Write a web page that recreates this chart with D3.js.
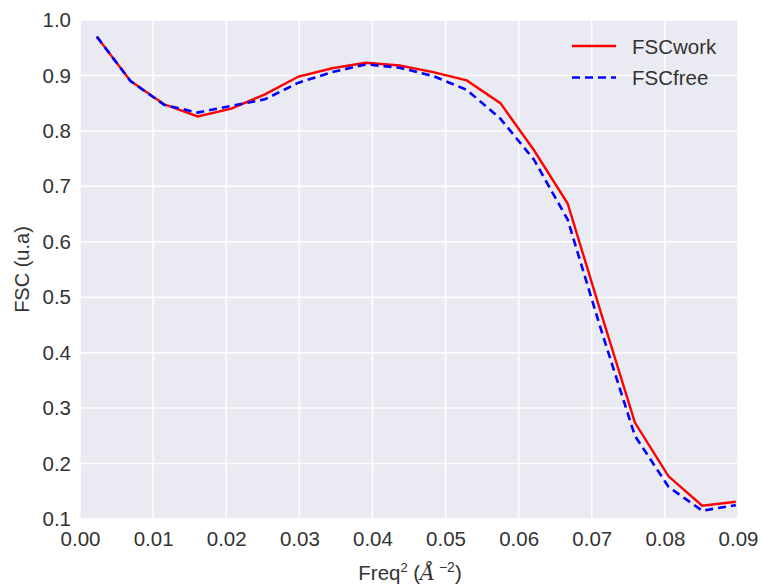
<!DOCTYPE html>
<html>
<head>
<meta charset="utf-8">
<script src="https://cdn.jsdelivr.net/npm/d3@7"></script>
<style>
  body { margin: 0; background: #fff; }
  svg text { font-family: "Liberation Sans", Arial, sans-serif; fill: #333; }
</style>
</head>
<body>
<div id="chart"></div>
<script>
// resolution shells (freq^2, 1/A^2)
const freq2 = [0.0023, 0.0069, 0.0115, 0.0161, 0.0207, 0.0253, 0.0299, 0.0345, 0.0391, 0.0437,
  0.0483, 0.0529, 0.0575, 0.0621, 0.0667, 0.0713, 0.0759, 0.0805, 0.0851, 0.0897];
const fscWork = [0.970, 0.890, 0.848, 0.826, 0.840, 0.866, 0.898, 0.913, 0.923, 0.918,
  0.906, 0.891, 0.850, 0.765, 0.669, 0.470, 0.274, 0.177, 0.124, 0.131];
const fscFree = [0.970, 0.890, 0.847, 0.833, 0.845, 0.857, 0.887, 0.906, 0.920, 0.914,
  0.899, 0.874, 0.822, 0.748, 0.640, 0.440, 0.250, 0.158, 0.115, 0.125];
const xTicks = [0, 0.01, 0.02, 0.03, 0.04, 0.05, 0.06, 0.07, 0.08, 0.09];
const yTicks = [0.1, 0.2, 0.3, 0.4, 0.5, 0.6, 0.7, 0.8, 0.9, 1.0];
const seriesNames = ['FSCwork', 'FSCfree'];

const width = 761, height = 588;
const margin = { top: 20, right: 23, bottom: 69, left: 80 };
const innerW = width - margin.left - margin.right;
const innerH = height - margin.top - margin.bottom;

const svg = d3.select('#chart').append('svg')
  .attr('width', width)
  .attr('height', height);

const g = svg.append('g')
  .attr('transform', `translate(${margin.left},${margin.top})`);

const x = d3.scaleLinear().domain([0, 0.09]).range([0, innerW]);
const y = d3.scaleLinear().domain([0.1, 1.0]).range([innerH, 0]);

g.append('rect')
  .attr('width', innerW)
  .attr('height', innerH)
  .attr('fill', '#eaeaf2');

// grid
g.append('g').selectAll('line')
  .data(xTicks)
  .enter().append('line')
  .attr('x1', d => x(d)).attr('x2', d => x(d))
  .attr('y1', 0).attr('y2', innerH)
  .attr('stroke', '#fff').attr('stroke-width', 1.5);
g.append('g').selectAll('line')
  .data(yTicks)
  .enter().append('line')
  .attr('x1', 0).attr('x2', innerW)
  .attr('y1', d => y(d)).attr('y2', d => y(d))
  .attr('stroke', '#fff').attr('stroke-width', 1.5);

// axes (labels only, seaborn style)
const xAxis = g.append('g')
  .attr('transform', `translate(0,${innerH})`)
  .call(d3.axisBottom(x).tickValues(xTicks).tickFormat(d3.format('.2f')).tickSize(0).tickPadding(9));
const yAxis = g.append('g')
  .call(d3.axisLeft(y).tickValues(yTicks).tickFormat(d3.format('.1f')).tickSize(0).tickPadding(9));
[xAxis, yAxis].forEach(a => {
  a.select('.domain').remove();
  a.selectAll('text')
    .style('font-size', '20.5px')
    .attr('fill', '#333');
});
xAxis.selectAll('text').attr('dy', '0.9em');

// lines
const line = (vals) => d3.line()
  .x((d, i) => x(freq2[i]))
  .y(d => y(d))(vals);

g.append('path')
  .attr('d', line(fscWork))
  .attr('fill', 'none')
  .attr('stroke', '#ff0000')
  .attr('stroke-width', 2.4);

g.append('path')
  .attr('d', line(fscFree))
  .attr('fill', 'none')
  .attr('stroke', '#0000ff')
  .attr('stroke-width', 2.6)
  .attr('stroke-dasharray', '8,5');

// legend
const legend = svg.append('g');
const styles = [
  { color: '#ff0000', dash: null, w: 2.4 },
  { color: '#0000ff', dash: '8,5', w: 2.6 }
];
seriesNames.forEach((name, i) => {
  const ly = 46 + i * 31.5;
  legend.append('line')
    .attr('x1', 572).attr('x2', 616)
    .attr('y1', ly).attr('y2', ly)
    .attr('stroke', styles[i].color)
    .attr('stroke-width', styles[i].w)
    .attr('stroke-dasharray', styles[i].dash);
  legend.append('text')
    .attr('x', 632).attr('y', ly + 7.5)
    .style('font-size', '20.5px')
    .text(name);
});

// axis labels
svg.append('text')
  .attr('transform', `translate(29,${margin.top + innerH / 2}) rotate(-90)`)
  .attr('text-anchor', 'middle')
  .style('font-size', '20px')
  .text('FSC (u.a)');

const xl = svg.append('text')
  .attr('x', 410)
  .attr('y', 580)
  .attr('text-anchor', 'middle')
  .style('font-size', '20.5px');
xl.append('tspan').text('Freq');
xl.append('tspan').attr('dy', -8).style('font-size', '13px').text('2');
xl.append('tspan').attr('dy', 8).text(' (');
xl.append('tspan').style('font-style', 'italic').style('font-family', 'DejaVu Serif, serif').text('Å');
xl.append('tspan').attr('dy', -8).style('font-size', '14px').text(' −2');
xl.append('tspan').attr('dy', 8).text(')');
</script>
</body>
</html>
